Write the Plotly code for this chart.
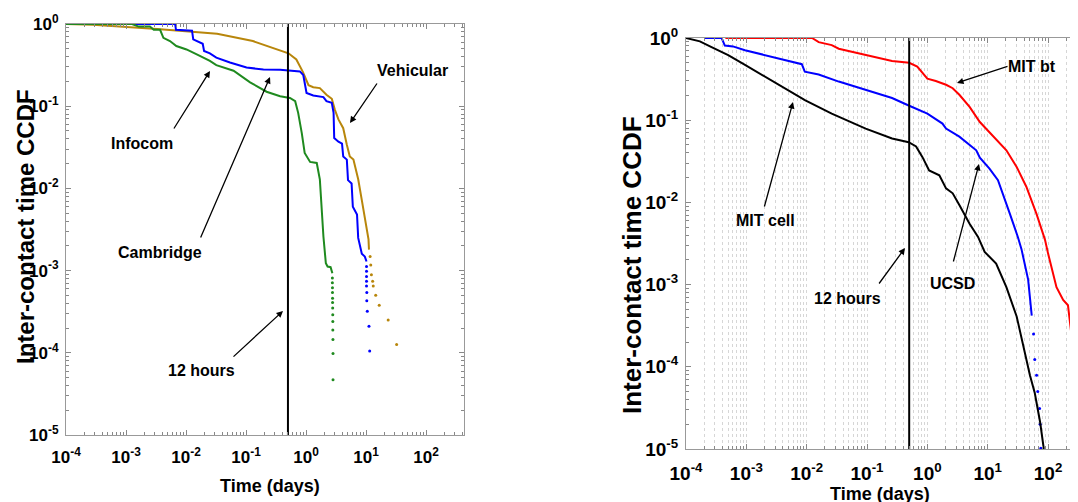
import plotly.graph_objects as go

W, H = 1078, 502
OFF = 8  # page body margin offset (screen px -> figure px)

# ---------------- Left panel data (days, CCDF) ----------------
veh_x = [1e-4, 2.8e-4, 3.3e-3, 0.033, 0.13, 0.28, 0.51, 0.69, 0.89, 1.1, 1.32, 1.7, 2.19, 2.69,
         3.02, 3.47, 4.17, 4.79, 5.37, 6.17, 7.41, 8.51, 9.55, 11.0, 11.2]
veh_y = [1.0, 0.977, 0.87, 0.76, 0.62, 0.51, 0.44, 0.37, 0.26, 0.18, 0.17, 0.166, 0.138, 0.123,
         0.091, 0.069, 0.054, 0.034, 0.0245, 0.0224, 0.0129, 0.0072, 0.0046, 0.0024, 0.0018]
veh_tail_x = [11.7, 12.0, 12.3, 12.9, 13.2, 14.5, 16.6, 23.4, 32.4]
veh_tail_y = [1.48e-3, 1.17e-3, 8.9e-4, 7.4e-4, 6.5e-4, 5.0e-4, 3.8e-4, 2.5e-4, 1.26e-4]

inf_x = [1e-4, 6.6e-3, 6.8e-3, 0.0126, 0.0132, 0.019, 0.02, 0.025, 0.032, 0.054, 0.102, 0.195,
         0.37, 0.66, 0.79, 0.90, 0.96, 1.02, 1.32, 1.95, 2.19, 2.69, 2.88, 2.95, 3.47, 3.98,
         4.17, 4.79, 5.01, 5.75, 6.03, 7.08, 7.41, 8.51, 9.55, 10.2]
inf_y = [1, 1, 0.85, 0.83, 0.65, 0.575, 0.47, 0.44, 0.39, 0.34, 0.295, 0.28, 0.278, 0.272,
         0.265, 0.24, 0.174, 0.145, 0.135, 0.129, 0.115, 0.11, 0.083, 0.041, 0.037, 0.035,
         0.0245, 0.0224, 0.0126, 0.0115, 0.006, 0.0048, 0.0025, 0.0016, 0.00148, 0.00129]
inf_tail_x = [10.2, 10.2, 10.2, 10.2, 10.2, 10.3, 10.3, 10.5, 11.2, 11.5]
inf_tail_y = [1.12e-3, 9.8e-4, 8.5e-4, 7.4e-4, 6.5e-4, 5.4e-4, 4.3e-4, 3.2e-4, 2.1e-4, 1.05e-4]

cam_x = [1e-4, 1.26e-3, 1.62e-3, 2.5e-3, 2.9e-3, 3.7e-3, 4.2e-3, 5.4e-3, 6.9e-3, 0.0102, 0.017,
         0.025, 0.032, 0.062, 0.117, 0.22, 0.37, 0.54, 0.66, 0.74, 0.85, 0.95, 1.17, 1.51, 1.7,
         1.82, 1.95, 2.14, 2.29, 2.57, 2.75]
cam_y = [1, 1, 0.93, 0.93, 0.85, 0.85, 0.68, 0.62, 0.54, 0.49, 0.41, 0.355, 0.316, 0.27, 0.195,
         0.15, 0.132, 0.126, 0.115, 0.083, 0.047, 0.027, 0.021, 0.0204, 0.0129, 0.0055, 0.0026,
         0.00123, 0.00112, 0.0011, 0.00093]
cam_tail_x = [2.75, 2.75, 2.76, 2.76, 2.77, 2.77, 2.78, 2.79, 2.8, 2.8, 2.81, 2.82, 2.82]
cam_tail_y = [8.1e-4, 7.1e-4, 6.2e-4, 5.4e-4, 4.6e-4, 4.1e-4, 3.5e-4, 2.9e-4, 2.4e-4, 1.9e-4,
              1.45e-4, 9.8e-5, 4.7e-5]

# ---------------- Right panel data ----------------
bt_x = [4.5e-4, 0.0123, 0.0158, 0.026, 0.034, 0.095, 0.26, 0.5, 0.68, 1.0, 1.38, 2.04, 2.63,
        3.39, 5.01, 7.41, 12.3, 20.4, 30.2, 43.7, 64.6, 89.1, 100, 138, 178, 214, 240, 257, 302]
bt_y = [1, 1, 0.89, 0.82, 0.74, 0.62, 0.525, 0.50, 0.45, 0.32, 0.30, 0.27, 0.245, 0.204, 0.145,
        0.095, 0.063, 0.043, 0.027, 0.0155, 0.0072, 0.0035, 0.0024, 9.3e-4, 6.5e-4, 5.6e-4,
        2.75e-4, 1.6e-4, 7.2e-5]

ucsd_x = [2.04e-4, 3.9e-4, 4.4e-4, 6.0e-4, 9.5e-4, 3.4e-3, 8.3e-3, 9.3e-3, 0.0158, 0.034, 0.095,
          0.26, 0.49, 1.0, 1.78, 2.04, 3.39, 6.46, 7.41, 10.7, 14.8, 17.8, 23.4, 31.6, 36.3,
          46.8, 53.7]
ucsd_y = [1, 1, 0.81, 0.79, 0.71, 0.56, 0.48, 0.39, 0.36, 0.295, 0.234, 0.186, 0.151, 0.12,
          0.091, 0.079, 0.063, 0.043, 0.035, 0.0257, 0.0186, 0.0129, 0.0072, 0.0038, 0.0027,
          0.00115, 4.2e-4]
ucsd_tail_x = [57.5, 60.3, 64.6, 67.6, 72.4, 74.1, 75.9]
ucsd_tail_y = [2.5e-4, 1.23e-4, 7.9e-5, 5.0e-5, 3.1e-5, 2.0e-5, 1.02e-5]

cell_x = [1e-4, 1.7e-4, 2.6e-4, 5.0e-4, 9.5e-4, 1.82e-3, 3.4e-3, 5.0e-3, 9.5e-3, 0.026, 0.095,
          0.26, 0.49, 0.65, 0.83, 1.07, 1.58, 2.04, 2.63, 3.39, 5.01, 6.92, 8.91, 13.8, 20.4,
          30.2, 38.9, 50.1, 60.3, 74.1, 85.1]
cell_y = [1, 0.91, 0.78, 0.62, 0.47, 0.355, 0.27, 0.234, 0.174, 0.12, 0.079, 0.060, 0.054, 0.048,
          0.0355, 0.0245, 0.0214, 0.0148, 0.0129, 0.0093, 0.0055, 0.0038, 0.0025, 0.0018, 9.3e-4,
          4.1e-4, 1.78e-4, 7.9e-5, 4.8e-5, 2.1e-5, 1.0e-5]

half_day = 0.5
x_ticks = [1e-4, 1e-3, 1e-2, 1e-1, 1e0, 1e1, 1e2]
x_ticktext = ["10<sup>-4</sup>", "10<sup>-3</sup>", "10<sup>-2</sup>", "10<sup>-1</sup>",
              "10<sup>0</sup>", "10<sup>1</sup>", "10<sup>2</sup>"]
y_ticks = [1e-5, 1e-4, 1e-3, 1e-2, 1e-1, 1e0]
y_ticktext = ["10<sup>-5</sup>", "10<sup>-4</sup>", "10<sup>-3</sup>", "10<sup>-2</sup>",
              "10<sup>-1</sup>", "10<sup>0</sup>"]

C_VEH = "#B8860B"
C_INF = "#0000FF"
C_CAM = "#1F8A1F"
C_BT = "#FF0000"
C_UCSD = "#0000FF"
C_CELL = "#000000"

FONT = "Liberation Sans, Arial, sans-serif"

fig = go.Figure()

def line(x, y, c, xa, ya, w=2):
    fig.add_trace(go.Scatter(x=x, y=y, mode="lines", line=dict(color=c, width=w),
                             xaxis=xa, yaxis=ya, showlegend=False, hoverinfo="skip"))

def dots(x, y, c, xa, ya):
    fig.add_trace(go.Scatter(x=x, y=y, mode="markers", marker=dict(color=c, size=3),
                             xaxis=xa, yaxis=ya, showlegend=False, hoverinfo="skip"))

line(veh_x, veh_y, C_VEH, "x", "y")
dots(veh_tail_x, veh_tail_y, C_VEH, "x", "y")
line(inf_x, inf_y, C_INF, "x", "y")
dots(inf_tail_x, inf_tail_y, C_INF, "x", "y")
line(cam_x, cam_y, C_CAM, "x", "y")
dots(cam_tail_x, cam_tail_y, C_CAM, "x", "y")
line([half_day, half_day], [1e-5, 1], "black", "x", "y", 2)

line(bt_x, bt_y, C_BT, "x2", "y2")
line(ucsd_x, ucsd_y, C_UCSD, "x2", "y2")
dots(ucsd_tail_x, ucsd_tail_y, C_UCSD, "x2", "y2")
line(cell_x, cell_y, C_CELL, "x2", "y2")
line([half_day, half_day], [1e-5, 1], "black", "x2", "y2", 2)

minor_x = [m * 10 ** e for e in range(-4, 3) for m in range(2, 10)]
minor_y = [m * 10 ** e for e in range(-5, 0) for m in range(2, 10)]

def tf(size):
    return dict(family=FONT, size=size, color="black", weight="bold")

def dx(a, b):
    return [(a - OFF) / W, (b - OFF) / W]

def dy(top, bottom):
    return [1 - (bottom - OFF) / H, 1 - (top - OFF) / H]

def xax(domain, rng, grid, fs, anchor, so):
    return dict(type="log", range=rng, domain=domain, anchor=anchor,
                tickvals=x_ticks, ticktext=x_ticktext,
                ticks="inside", ticklen=5, tickcolor="#888", showline=True, linecolor="#999",
                linewidth=1, mirror="allticks", tickfont=tf(fs), zeroline=False,
                automargin=False,
                showgrid=grid, gridcolor="#d6d6d6", griddash="dot", gridwidth=1,
                minor=dict(tickvals=minor_x, ticks="inside", ticklen=3, tickcolor="#888",
                           showgrid=grid, gridcolor="#d6d6d6", griddash="dot"),
                ticklabelstandoff=so)

def yax(domain, rng, fs, anchor):
    return dict(type="log", range=rng, domain=domain, anchor=anchor,
                tickvals=y_ticks, ticktext=y_ticktext,
                ticks="inside", ticklen=5, tickcolor="#888", showline=True, linecolor="#999",
                linewidth=1, mirror="allticks", tickfont=tf(fs), zeroline=False,
                automargin=False, showgrid=False,
                minor=dict(tickvals=minor_y, ticks="inside", ticklen=3, tickcolor="#888"),
                ticklabelstandoff=3)

fig.update_layout(
    width=W, height=H, autosize=False,
    margin=dict(l=0, r=0, t=0, b=0, pad=0),
    paper_bgcolor="white", plot_bgcolor="white",
    xaxis=xax(dx(66, 464), [-4, 2.633], False, 17, "y", 7),
    yaxis=yax(dy(24, 435), [-5, 0], 17, "x"),
    xaxis2=xax(dx(686, 1077), [-4, 2.48], True, 19, "y2", 7),
    yaxis2=yax(dy(38, 449), [-5, 0], 19, "x2"),
)

def px(x, y):
    return (x - OFF) / W, 1 - (y - OFF) / H

def text(s, x, y, size=16, angle=0):
    xx, yy = px(x, y)
    fig.add_annotation(text=s, x=xx, y=yy, xref="paper", yref="paper", showarrow=False,
                       xanchor="center", yanchor="middle", textangle=angle,
                       font=dict(family=FONT, size=size, color="black", weight="bold"))

def arrow(tail, head):
    hx, hy = px(*head)
    fig.add_annotation(text="", x=hx, y=hy, xref="paper", yref="paper", showarrow=True,
                       ax=tail[0] - head[0], ay=tail[1] - head[1], axref="pixel", ayref="pixel",
                       arrowhead=2, arrowsize=1, arrowwidth=1.3, arrowcolor="black",
                       standoff=0, startstandoff=0)

# axis titles
text("Inter-contact time CCDF", 25, 227, size=24, angle=-90)
text("Time (days)", 270, 486, size=18)
text("Inter-contact time CCDF", 632, 265, size=26, angle=-90)
text("Time (days)", 880, 494, size=18)

# left annotations
text("Vehicular", 412, 70)
arrow((378, 82), (350, 123))
text("Infocom", 142, 143)
arrow((173, 130), (210, 71))
text("Cambridge", 160, 252)
arrow((200, 239), (270, 77))
text("12 hours", 201, 370)
arrow((232, 358), (283, 311))

# right annotations
text("MIT bt", 1032, 66)
arrow((1009, 66), (957, 83))
text("MIT cell", 765, 220)
arrow((764, 208), (793, 102))
text("UCSD", 952, 283)
arrow((953, 263), (979, 164))
text("12 hours", 847, 298)
arrow((878, 285), (905, 248))

fig.write_html("out.html")
